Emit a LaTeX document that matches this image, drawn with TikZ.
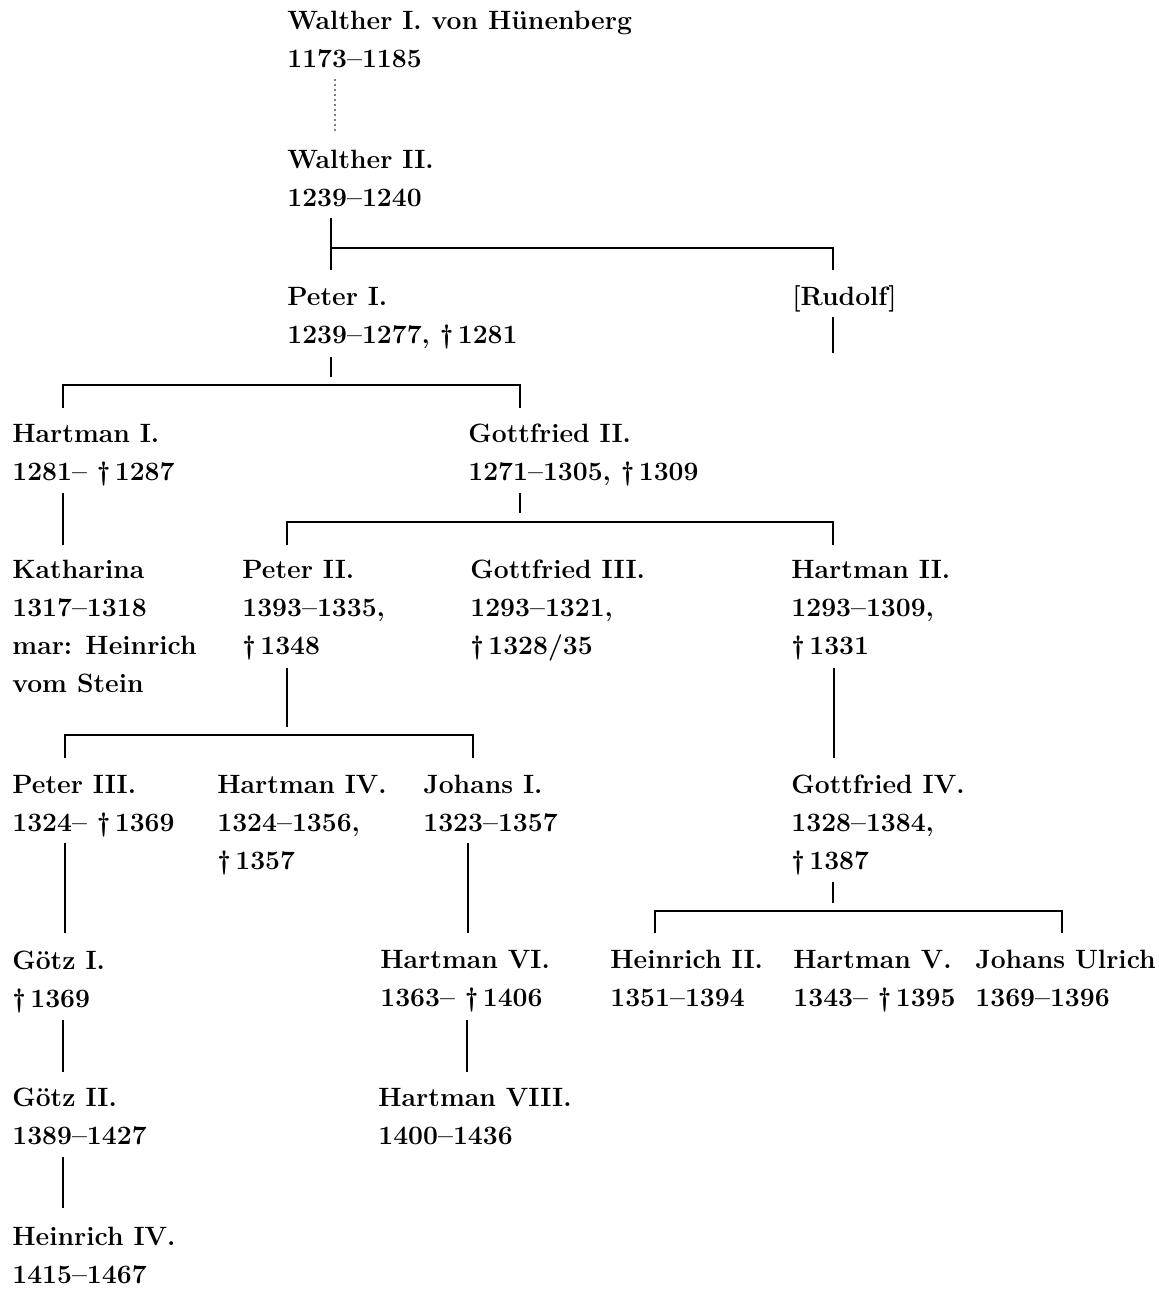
\documentclass[tikz,border=0pt]{standalone}
\usepackage{fontspec}
\usepackage{tikz}
\usetikzlibrary{calc}
\tikzset{%
  person/.style = {anchor=base west, inner sep=0pt, align=left,
                   font=\fontsize{13.25}{19}\selectfont\bfseries},
  stem/.style   = {line width=1pt},
  faint/.style  = {line width=0.9pt, line cap=round, dash pattern=on 0pt off 2.5pt},
}
\begin{document}
\begin{tikzpicture}[x=0.5pt, y=-0.5pt]
  \useasboundingbox (0,0) rectangle (1158,1289);

  % nodes sit on the baseline of their last line
  \node (w1)  [person] at (287,68)   {Walther I. von Hünenberg\\1173–1185};
  \node (w2)  [person] at (287,206)  {Walther II.\\1239–1240};
  \node (p1)  [person] at (287,343)  {Peter I.\\1239–1277, †\,1281};
  \node (rud) [person] at (792,305)  {[Rudolf]};
  \node (h1)  [person] at (12,480)   {Hartman I.\\1281–~†\,1287};
  \node (g2)  [person] at (468,480)  {Gottfried II.\\1271–1305, †\,1309};
  \node (kat) [person] at (12,692)   {Katharina\\1317–1318\\mar: Heinrich\\vom Stein};
  \node (p2)  [person] at (242,654)  {Peter II.\\1393–1335,\\†\,1348};
  \node (g3)  [person] at (470,654)  {Gottfried III.\\1293–1321,\\†\,1328/35};
  \node (h2)  [person] at (791,654)  {Hartman II.\\1293–1309,\\†\,1331};
  \node (p3)  [person] at (12,831)   {Peter III.\\1324–~†\,1369};
  \node (h4)  [person] at (217,869)  {Hartman IV.\\1324–1356,\\†\,1357};
  \node (j1)  [person] at (423,831)  {Johans I.\\1323–1357};
  \node (g4)  [person] at (791,869)  {Gottfried IV.\\1328–1384,\\†\,1387};
  \node (gz1) [person] at (12,1007)  {Götz I.\\†\,1369};
  \node (h6)  [person] at (380,1006) {Hartman VI.\\1363–~†\,1406};
  \node (hn2) [person] at (610,1006) {Heinrich II.\\1351–1394};
  \node (h5)  [person] at (793,1006) {Hartman V.\\1343–~†\,1395};
  \node (ju)  [person] at (975,1006) {Johans Ulrich\\1369–1396};
  \node (gz2) [person] at (12,1144)  {Götz II.\\1389–1427};
  \node (h8)  [person] at (378,1144) {Hartman VIII.\\1400–1436};
  \node (hn4) [person] at (12,1283)  {Heinrich IV.\\1415–1467};

  % forks of the brackets
  \coordinate (fork1) at ($(p1.base west)+(44,42)$);
  \coordinate (fork2) at ($(g2.base west)+(52,42)$);
  \coordinate (fork3) at ($(p2.base west)+(45,81)$);
  \coordinate (fork4) at ($(g4.base west)+(42,42)$);
  \coordinate (rudend) at ($(rud.base west)+(41,48)$);

  \draw[faint] ($(w1.base west)+(48,12)$) -- ($(w2.base west)+(48,-76)$);

  \draw[stem] ($(w2.base west)+(44,12)$) -- ($(p1.base west)+(44,-73)$);
  \draw[stem] ($(w2.base west)+(44,42)$) -| ($(rud.base west)+(41,-35)$);
  \draw[stem] ($(rud.base west)+(41,12)$) -- (rudend);

  \draw[stem] ($(p1.base west)+(44,14)$) -- ([yshift=4pt]fork1);
  \draw[stem] ($(h1.base west)+(51,-72)$) |- (fork1) -| ($(g2.base west)+(52,-72)$);

  \draw[stem] ($(h1.base west)+(51,13)$) -- ($(kat.base west)+(51,-147)$);

  \draw[stem] ($(g2.base west)+(52,13)$) -- ([yshift=4.5pt]fork2);
  \draw[stem] ($(p2.base west)+(45,-109)$) |- (fork2) -| ($(h2.base west)+(42,-109)$);

  \draw[stem] ($(p2.base west)+(45,14)$) -- ([yshift=4pt]fork3);
  \draw[stem] ($(p3.base west)+(53,-73)$) |- (fork3) -| ($(j1.base west)+(50,-73)$);

  \draw[stem] ($(h2.base west)+(43,14)$) -- ($(g4.base west)+(43,-111)$);

  \draw[stem] ($(p3.base west)+(53,12)$) -- ($(gz1.base west)+(53,-74)$);
  \draw[stem] ($(j1.base west)+(45,12)$) -- ($(h6.base west)+(88,-73)$);

  \draw[stem] ($(g4.base west)+(42,13)$) -- ([yshift=4pt]fork4);
  \draw[stem] ($(hn2.base west)+(45,-73)$) |- (fork4) -| ($(ju.base west)+(87,-73)$);

  \draw[stem] ($(gz1.base west)+(51,13)$) -- ($(gz2.base west)+(51,-72)$);
  \draw[stem] ($(h6.base west)+(87,14)$) -- ($(h8.base west)+(89,-72)$);
  \draw[stem] ($(gz2.base west)+(51,13)$) -- ($(hn4.base west)+(51,-75)$);
\end{tikzpicture}
\end{document}
